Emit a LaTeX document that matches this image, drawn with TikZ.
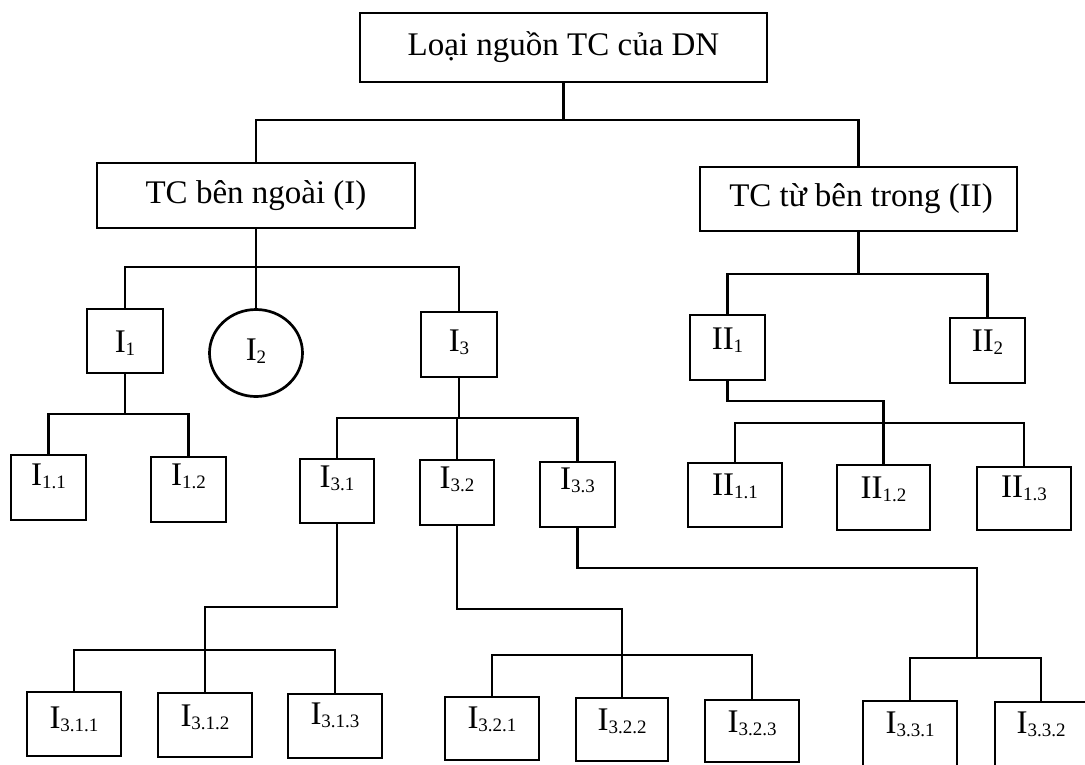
\documentclass[tikz,border=0pt]{standalone}
\usepackage{fontspec}
\setmainfont{Liberation Serif}
\usetikzlibrary{shapes.geometric}
\newcommand\sbs[1]{\raisebox{-3pt}{\fontsize{19}{19}\selectfont #1}}
\tikzset{
  box/.style={draw=black, line width=2.7pt, inner sep=0pt, outer sep=0pt, rectangle},
  oval/.style={draw=black, line width=2.7pt, inner sep=0pt, outer sep=0pt, ellipse},
  txt/.style={anchor=base, inner sep=0pt, font=\fontsize{33}{36}\selectfont},
  conn/.style={draw=black, line width=2.2pt, line cap=rect}
}
\begin{document}
\begin{tikzpicture}[x=1pt, y=-1pt]
\useasboundingbox (0,0) rectangle (1085,764);
\fill[white] (0,0) rectangle (1085,764);

% level 0
\node[box, minimum width=407, minimum height=69] (T) at (563.5,47.5) {};
\node[txt] (tT) at (563.5,55) {Loại nguồn TC của DN};

% level 1
\node[box, minimum width=318, minimum height=65] (A) at (256,195.5) {};
\node[txt] (tA) at (256,203) {TC bên ngoài (I)};
\node[box, minimum width=317, minimum height=64] (B) at (858.5,199) {};
\node[txt] (tB) at (861,206) {TC từ bên trong (II)};

% level 2
\node[box, minimum width=76, minimum height=64] (I1) at (125,341) {};
\node[txt] (tI1) at (125,352) {I\sbs{1}};
\node[oval, minimum width=93, minimum height=87] (I2) at (256,353) {};
\node[txt] (tI2) at (256,360) {I\sbs{2}};
\node[box, minimum width=76, minimum height=65] (I3) at (459,344.5) {};
\node[txt] (tI3) at (459,351) {I\sbs{3}};
\node[box, minimum width=75, minimum height=65] (II1) at (727.5,347.5) {};
\node[txt] (tII1) at (727.5,349) {II\sbs{1}};
\node[box, minimum width=75, minimum height=65] (II2) at (987.5,350.5) {};
\node[txt] (tII2) at (987.5,351) {II\sbs{2}};

% level 3
\node[box, minimum width=75, minimum height=65] (I11) at (48.5,487.5) {};
\node[txt] (tI11) at (48.5,485) {I\sbs{1.1}};
\node[box, minimum width=75, minimum height=65] (I12) at (188.5,489.5) {};
\node[txt] (tI12) at (188.5,485) {I\sbs{1.2}};
\node[box, minimum width=74, minimum height=64] (I31) at (337,491) {};
\node[txt] (tI31) at (337,487) {I\sbs{3.1}};
\node[box, minimum width=74, minimum height=65] (I32) at (457,492.5) {};
\node[txt] (tI32) at (457,488) {I\sbs{3.2}};
\node[box, minimum width=75, minimum height=65] (I33) at (577.5,494.5) {};
\node[txt] (tI33) at (577.5,489) {I\sbs{3.3}};
\node[box, minimum width=94, minimum height=64] (II11) at (735,495) {};
\node[txt] (tII11) at (735,495) {II\sbs{1.1}};
\node[box, minimum width=93, minimum height=65] (II12) at (883.5,497.5) {};
\node[txt] (tII12) at (883.5,498) {II\sbs{1.2}};
\node[box, minimum width=94, minimum height=63] (II13) at (1024,498.5) {};
\node[txt] (tII13) at (1024,497) {II\sbs{1.3}};

% level 4
\node[box, minimum width=94, minimum height=64] (I311) at (74,724) {};
\node[txt] (tI311) at (74,728) {I\sbs{3.1.1}};
\node[box, minimum width=94, minimum height=64] (I312) at (205,725) {};
\node[txt] (tI312) at (205,726) {I\sbs{3.1.2}};
\node[box, minimum width=94, minimum height=64] (I313) at (335,726) {};
\node[txt] (tI313) at (335,724) {I\sbs{3.1.3}};
\node[box, minimum width=94, minimum height=63] (I321) at (492,728.5) {};
\node[txt] (tI321) at (492,728) {I\sbs{3.2.1}};
\node[box, minimum width=92, minimum height=63] (I322) at (622,729.5) {};
\node[txt] (tI322) at (622,730) {I\sbs{3.2.2}};
\node[box, minimum width=94, minimum height=62] (I323) at (752,731) {};
\node[txt] (tI323) at (752,732) {I\sbs{3.2.3}};
\node[box, minimum width=94, minimum height=66] (I331) at (910,734) {};
\node[txt] (tI331) at (910,733) {I\sbs{3.3.1}};
\node[box, minimum width=92, minimum height=66] (I332) at (1041,735) {};
\node[txt] (tI332) at (1041,733) {I\sbs{3.3.2}};

% bus levels
\coordinate (b0) at (0,120);
\coordinate (b1) at (0,267);
\coordinate (b2) at (0,274);
\coordinate (b3) at (0,414);
\coordinate (b4) at (0,418);
\coordinate (b5) at (0,423);
\coordinate (b6) at (0,650);
\coordinate (b7) at (0,655);
\coordinate (b8) at (0,658);
\coordinate (j33) at (977,658);

% connectors
\draw[conn] (T.south) -- (T.south |- b0);
\draw[conn] (A.north) -- (A.north |- b0) -- (B.north |- b0) -- (B.north);

\draw[conn] (A.south) -- (I2.north);
\draw[conn] (I1.north) -- (I1.north |- b1) -- (I3.north |- b1) -- (I3.north);

\draw[conn] (B.south) -- (B.south |- b2);
\draw[conn] (II1.north) -- (II1.north |- b2) -- (II2.north |- b2) -- (II2.north);

\draw[conn] (I1.south) -- (I1.south |- b3);
\draw[conn] (I11.north) -- (I11.north |- b3) -- (I12.north |- b3) -- (I12.north);

\draw[conn] (I3.south) -- (I3.south |- b4);
\draw[conn] (I31.north) -- (I31.north |- b4) -- (I33.north |- b4) -- (I33.north);
\draw[conn] (I32.north) -- (I32.north |- b4);

\draw[conn] (II1.south) -- ++(0,21) -| (II12.north);
\draw[conn] (II11.north) -- (II11.north |- b5) -- (II13.north |- b5) -- (II13.north);

\draw[conn] (I31.south) -- ++(0,84) -| (I312.north);
\draw[conn] (I311.north) -- (I311.north |- b6) -- (I313.north |- b6) -- (I313.north);

\draw[conn] (I32.south) -- ++(0,84) -| (I322.north);
\draw[conn] (I321.north) -- (I321.north |- b7) -- (I323.north |- b7) -- (I323.north);

\draw[conn] (I33.south) -- ++(0,41) -| (j33);
\draw[conn] (I331.north) -- (I331.north |- b8) -- (I332.north |- b8) -- (I332.north);
\end{tikzpicture}
\end{document}
